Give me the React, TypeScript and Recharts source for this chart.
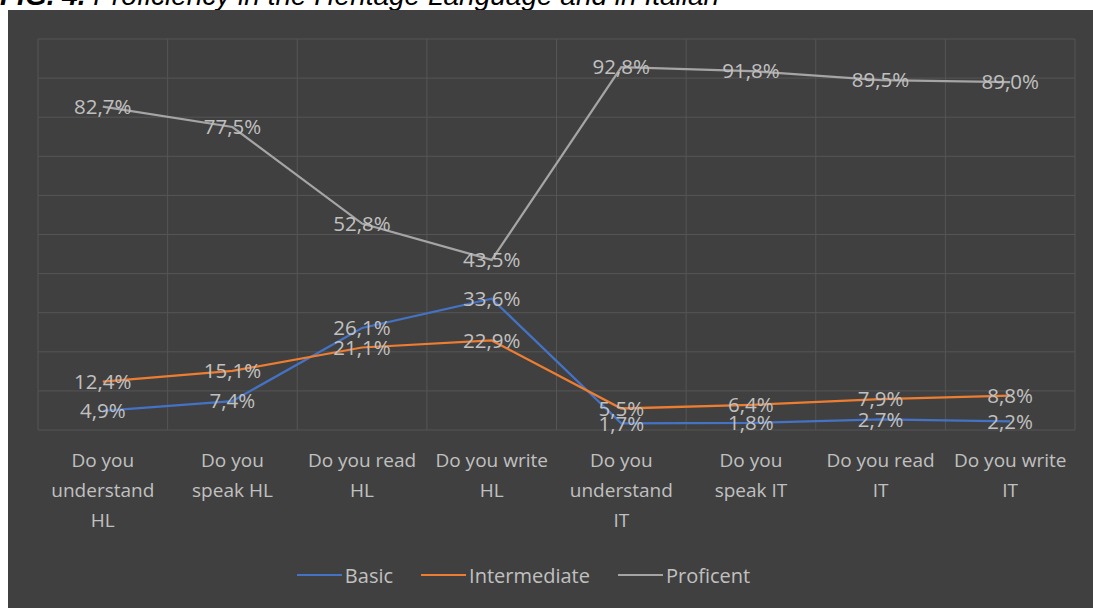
import React from "react";
import { CartesianGrid, LabelList, Legend, Line, LineChart, XAxis, YAxis } from "recharts";

// categories (line breaks follow the original wrapping)
const categories = [
  "Do you\nunderstand\nHL",
  "Do you\nspeak HL",
  "Do you read\nHL",
  "Do you write\nHL",
  "Do you\nunderstand\nIT",
  "Do you\nspeak IT",
  "Do you read\nIT",
  "Do you write\nIT",
];
const basic = [4.9, 7.4, 26.1, 33.6, 1.7, 1.8, 2.7, 2.2];
const intermediate = [12.4, 15.1, 21.1, 22.9, 5.5, 6.4, 7.9, 8.8];
const proficent = [82.7, 77.5, 52.8, 43.5, 92.8, 91.8, 89.5, 89.0];
const yTicks = [0, 10, 20, 30, 40, 50, 60, 70, 80, 90, 100];

const data = categories.map((c, i) => ({
  name: c,
  basic: basic[i],
  intermediate: intermediate[i],
  proficent: proficent[i],
}));

const W = 1085;
const H = 598;
const margin = { top: 29, right: 18, left: 30, bottom: 18 };
const plotW = W - margin.left - margin.right;
const pad = plotW / categories.length / 2;

const FONT = '"Open Sans", sans-serif';
const TEXT = "#c0c0c0";

const fmt = (v: number) => v.toFixed(1).replace(".", ",") + "%";

function CategoryTick({ x, y, payload }: any) {
  const lines = String(payload.value).split("\n");
  return (
    <text x={x} y={y} textAnchor="middle" fill={TEXT} fontSize={19} fontFamily={FONT}>
      {lines.map((l, i) => (
        <tspan key={i} x={x} dy={i === 0 ? 37 : 30}>
          {l}
        </tspan>
      ))}
    </text>
  );
}

const renderLegend = ({ payload }: any) => (
  <div
    style={{
      display: "flex",
      justifyContent: "center",
      alignItems: "center",
      gap: 28,
      height: 30,
      marginRight: 66,
      fontFamily: FONT,
      fontSize: 20,
      color: TEXT,
    }}
  >
    {(payload || []).map((p: any) => (
      <div key={p.value} style={{ display: "flex", alignItems: "center" }}>
        <div style={{ width: 45, height: 2, background: p.color, marginRight: 3 }} />
        <span>{p.value}</span>
      </div>
    ))}
  </div>
);

export default function App() {
  return (
    <div>
      <style>{`body{margin:0;overflow:hidden;}`}</style>
      <div style={{ position: "relative", height: 10, overflow: "hidden", background: "#fff" }}>
        <div
          style={{
            position: "absolute",
            top: -20,
            left: 0,
            whiteSpace: "nowrap",
            font: 'italic 28px "Liberation Sans", Arial, sans-serif',
            color: "#000",
          }}
        >
          <b>FIG. 4.</b> Proficiency in the Heritage Language and in Italian
        </div>
      </div>
      <div style={{ marginLeft: 8, width: W, height: H, background: "#404040" }}>
        <LineChart width={W} height={H} data={data} margin={margin}>
          <CartesianGrid
            stroke="#555555"
            strokeWidth={1}
            verticalCoordinatesGenerator={({ offset }: any) =>
              Array.from({ length: categories.length + 1 }, (_, i) => offset.left + (offset.width * i) / categories.length)
            }
          />
          <XAxis
            dataKey="name"
            interval={0}
            axisLine={false}
            tickLine={false}
            tickSize={0}
            tickMargin={0}
            padding={{ left: pad, right: pad }}
            height={130}
            tick={<CategoryTick />}
          />
          <YAxis hide domain={[0, 100]} ticks={yTicks} />
          <Legend verticalAlign="bottom" content={renderLegend} />
          <Line
            type="linear"
            dataKey="basic"
            name="Basic"
            stroke="#4472C4"
            strokeWidth={2.25}
            dot={false}
            isAnimationActive={false}
          >
            <LabelList dataKey="basic" position="center" formatter={fmt} fill={TEXT} fontSize={20.5} fontFamily={FONT} />
          </Line>
          <Line
            type="linear"
            dataKey="intermediate"
            name="Intermediate"
            stroke="#ED7D31"
            strokeWidth={2.25}
            dot={false}
            isAnimationActive={false}
          >
            <LabelList dataKey="intermediate" position="center" formatter={fmt} fill={TEXT} fontSize={20.5} fontFamily={FONT} />
          </Line>
          <Line
            type="linear"
            dataKey="proficent"
            name="Proficent"
            stroke="#A5A5A5"
            strokeWidth={2.25}
            dot={false}
            isAnimationActive={false}
          >
            <LabelList dataKey="proficent" position="center" formatter={fmt} fill={TEXT} fontSize={20.5} fontFamily={FONT} />
          </Line>
        </LineChart>
      </div>
    </div>
  );
}
